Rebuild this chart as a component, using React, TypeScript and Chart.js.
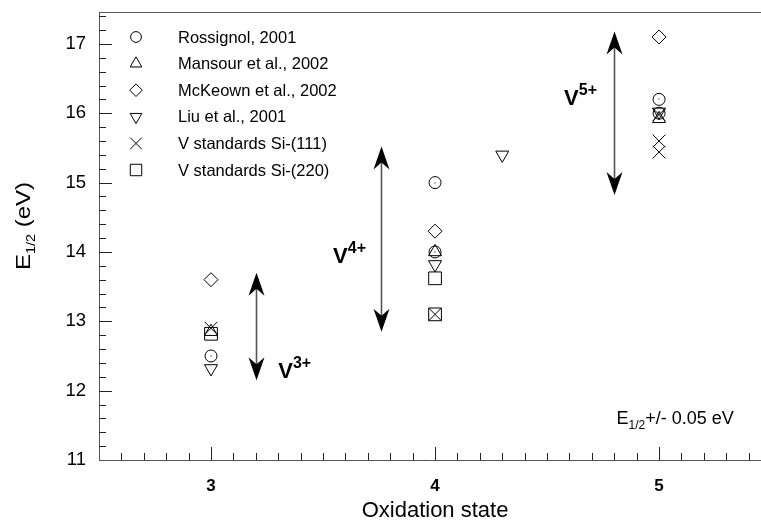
import React, { useEffect, useRef } from "react";
import { Chart, registerables } from "chart.js";

Chart.register(...registerables);

// ---------- data ----------
const seriesLabels = [
  "Rossignol, 2001",
  "Mansour et al., 2002",
  "McKeown et al., 2002",
  "Liu et al., 2001",
  "V standards Si-(111)",
  "V standards Si-(220)",
];

const rossignol = [
  { x: 3, y: 12.5 },
  { x: 4, y: 15.0 },
  { x: 4, y: 14.0 },
  { x: 5, y: 16.2 },
  { x: 5, y: 16.0 },
];
const mansour = [
  { x: 3, y: 12.85 },
  { x: 4, y: 14.0 },
  { x: 5, y: 15.92 },
];
const mckeown = [
  { x: 3, y: 13.6 },
  { x: 4, y: 14.3 },
  { x: 5, y: 17.1 },
];
const liu = [
  { x: 3, y: 12.32 },
  { x: 4, y: 13.82 },
  { x: 4.3, y: 15.4 },
  { x: 5, y: 16.02 },
];
const si111 = [
  { x: 3, y: 12.9 },
  { x: 4, y: 13.1 },
  { x: 5, y: 15.98 },
  { x: 5, y: 15.6 },
  { x: 5, y: 15.44 },
];
const si220 = [
  { x: 3, y: 12.82 },
  { x: 4, y: 13.62 },
  { x: 4, y: 13.1 },
];

const xTickValues = [3, 4, 5];
const yTickValues = [11, 12, 13, 14, 15, 16, 17];

// valence range arrows
const arrowX = [3.2, 3.76, 4.8];
const arrowLow = [12.15, 12.85, 14.82];
const arrowHigh = [13.7, 15.52, 17.18];

// valence labels
const valenceSup = ["3+", "4+", "5+"];
const valenceX = [3.3, 3.545, 4.576];
const valenceY = [12.18, 13.84, 16.12];

const noteX = 4.81;
const noteY = 11.52;

// ---------- styling ----------
const FONT = "'Liberation Sans', Arial, Helvetica, sans-serif";
type Marker = { style: string; radius: number };
const markers: Marker[] = [
  { style: "circle", radius: 6 },
  { style: "triangle", radius: 7.5 },
  { style: "diamond", radius: 7 },
  { style: "triangleDown", radius: 7.5 },
  { style: "cross", radius: 9 },
  { style: "square", radius: 9 },
];

function drawMarker(ctx: CanvasRenderingContext2D, style: string, x: number, y: number, r: number) {
  ctx.beginPath();
  const s3 = Math.sqrt(3) / 2;
  switch (style) {
    case "circle":
      ctx.arc(x, y, r, 0, Math.PI * 2);
      break;
    case "triangle":
      ctx.moveTo(x, y - r);
      ctx.lineTo(x + r * s3, y + r / 2);
      ctx.lineTo(x - r * s3, y + r / 2);
      ctx.closePath();
      break;
    case "triangleDown":
      ctx.moveTo(x, y + r);
      ctx.lineTo(x + r * s3, y - r / 2);
      ctx.lineTo(x - r * s3, y - r / 2);
      ctx.closePath();
      break;
    case "diamond":
      ctx.moveTo(x, y - r);
      ctx.lineTo(x + r, y);
      ctx.lineTo(x, y + r);
      ctx.lineTo(x - r, y);
      ctx.closePath();
      break;
    case "cross": {
      const d = r * Math.SQRT1_2;
      ctx.moveTo(x - d, y - d);
      ctx.lineTo(x + d, y + d);
      ctx.moveTo(x + d, y - d);
      ctx.lineTo(x - d, y + d);
      break;
    }
    case "square": {
      const d = r * Math.SQRT1_2;
      ctx.rect(x - d, y - d, 2 * d, 2 * d);
      break;
    }
  }
  ctx.stroke();
}

const decorPlugin = {
  id: "decor",
  afterDatasetsDraw(chart: any) {
    const ctx: CanvasRenderingContext2D = chart.ctx;
    // centre dot of Rossignol circles
    const meta = chart.getDatasetMeta(0);
    ctx.save();
    ctx.fillStyle = "#000";
    meta.data.forEach((p: any) => ctx.fillRect(Math.round(p.x) - 0.5, Math.round(p.y) - 0.5, 1, 1));
    ctx.restore();
  },
  afterDraw(chart: any) {
    const ctx: CanvasRenderingContext2D = chart.ctx;
    const { left, right, top, bottom } = chart.chartArea;
    const xs = chart.scales.x;
    const ys = chart.scales.y;
    ctx.save();

    // top frame
    ctx.strokeStyle = "#555";
    ctx.lineWidth = 1;
    ctx.beginPath();
    ctx.moveTo(left, top + 0.5);
    ctx.lineTo(right, top + 0.5);
    ctx.stroke();

    // inward ticks
    ctx.strokeStyle = "#222";
    ctx.beginPath();
    for (let i = 26; i <= 54; i++) {
      const px = Math.round(xs.getPixelForValue(i / 10)) + 0.5;
      const len = i % 10 === 0 ? 13 : 7;
      ctx.moveTo(px, bottom);
      ctx.lineTo(px, bottom - len);
    }
    for (let i = 56; i <= 87; i++) {
      const py = Math.round(ys.getPixelForValue(i / 5)) + 0.5;
      const len = i % 5 === 0 ? 13 : 7;
      ctx.moveTo(left, py);
      ctx.lineTo(left + len, py);
    }
    ctx.stroke();

    // legend
    ctx.lineWidth = 1;
    ctx.strokeStyle = "#000";
    ctx.fillStyle = "#000";
    ctx.font = `16.5px ${FONT}`;
    ctx.textBaseline = "middle";
    ctx.textAlign = "left";
    seriesLabels.forEach((lab, i) => {
      const yy = 37 + i * 26.6;
      drawMarker(ctx, markers[i].style, 136, yy, markers[i].radius * 0.9);
      ctx.fillText(lab, 178, yy + 1);
    });

    // arrows
    arrowX.forEach((ax, i) => {
      const px = Math.round(xs.getPixelForValue(ax)) + 0.5;
      const yTop = ys.getPixelForValue(arrowHigh[i]);
      const yBot = ys.getPixelForValue(arrowLow[i]);
      ctx.strokeStyle = "#555";
      ctx.lineWidth = 1.6;
      ctx.beginPath();
      ctx.moveTo(px, yTop + 10);
      ctx.lineTo(px, yBot - 10);
      ctx.stroke();
      ctx.fillStyle = "#000";
      ctx.beginPath();
      ctx.moveTo(px, yTop);
      ctx.lineTo(px + 8, yTop + 23);
      ctx.lineTo(px, yTop + 16);
      ctx.lineTo(px - 8, yTop + 23);
      ctx.closePath();
      ctx.fill();
      ctx.beginPath();
      ctx.moveTo(px, yBot);
      ctx.lineTo(px + 8, yBot - 23);
      ctx.lineTo(px, yBot - 16);
      ctx.lineTo(px - 8, yBot - 23);
      ctx.closePath();
      ctx.fill();
    });

    // valence labels
    ctx.fillStyle = "#000";
    ctx.textAlign = "left";
    ctx.textBaseline = "alphabetic";
    valenceSup.forEach((sup, i) => {
      const px = xs.getPixelForValue(valenceX[i]);
      const py = ys.getPixelForValue(valenceY[i]);
      ctx.font = `bold 22px ${FONT}`;
      ctx.fillText("V", px, py);
      const w = ctx.measureText("V").width;
      ctx.font = `bold 16px ${FONT}`;
      ctx.fillText(sup, px + w, py - 10);
    });

    // note
    {
      const px = xs.getPixelForValue(noteX);
      const py = ys.getPixelForValue(noteY);
      ctx.textAlign = "left";
      ctx.font = `18px ${FONT}`;
      ctx.fillText("E", px, py);
      let w = ctx.measureText("E").width;
      ctx.font = `12px ${FONT}`;
      ctx.fillText("1/2", px + w, py + 5);
      w += ctx.measureText("1/2").width;
      ctx.font = `18px ${FONT}`;
      ctx.fillText("+/- 0.05 eV", px + w, py);
    }

    // x title
    ctx.font = `22px ${FONT}`;
    ctx.textAlign = "center";
    ctx.textBaseline = "middle";
    ctx.fillText("Oxidation state", xs.getPixelForValue(4), 511);

    // y title (rotated, with subscript)
    ctx.save();
    ctx.translate(24, 226);
    ctx.rotate(-Math.PI / 2);
    ctx.scale(1.2, 1);
    ctx.textAlign = "left";
    ctx.textBaseline = "middle";
    ctx.font = `20px ${FONT}`;
    const wE = ctx.measureText("E").width;
    const wRest = ctx.measureText(" (eV)").width;
    ctx.font = `12px ${FONT}`;
    const wSub = ctx.measureText("1/2").width;
    const total = wE + wSub + wRest;
    let cx = -total / 2;
    ctx.font = `20px ${FONT}`;
    ctx.fillText("E", cx, 0);
    cx += wE;
    ctx.font = `12px ${FONT}`;
    ctx.fillText("1/2", cx, 8);
    cx += wSub;
    ctx.font = `20px ${FONT}`;
    ctx.fillText(" (eV)", cx, 0);
    ctx.restore();

    ctx.restore();
  },
};

const pointStyleMap: Record<string, { pointStyle: string; rotation: number }> = {
  circle: { pointStyle: "circle", rotation: 0 },
  triangle: { pointStyle: "triangle", rotation: 0 },
  triangleDown: { pointStyle: "triangle", rotation: 180 },
  diamond: { pointStyle: "rectRot", rotation: 0 },
  cross: { pointStyle: "crossRot", rotation: 0 },
  square: { pointStyle: "rect", rotation: 0 },
};

export default function App() {
  const ref = useRef<HTMLCanvasElement | null>(null);

  useEffect(() => {
    if (!ref.current) return;
    const allSeries = [rossignol, mansour, mckeown, liu, si111, si220];
    const datasets = allSeries.map((d, i) => {
      const m = markers[i];
      const ps = pointStyleMap[m.style];
      return {
        label: seriesLabels[i],
        data: d,
        pointStyle: ps.pointStyle,
        rotation: ps.rotation,
        pointRotation: ps.rotation,
        pointRadius: m.radius,
        pointHoverRadius: m.radius,
        pointBorderWidth: 1,
        borderColor: "#000",
        pointBorderColor: "#000",
        backgroundColor: "rgba(0,0,0,0)",
        pointBackgroundColor: "rgba(0,0,0,0)",
        showLine: false,
      };
    });

    const zeroPad = (scale: any) => {
      scale.paddingLeft = 0;
      scale.paddingRight = 0;
      scale.paddingTop = 0;
      scale.paddingBottom = 0;
    };

    const chart = new Chart(ref.current, {
      type: "scatter",
      data: { datasets } as any,
      plugins: [decorPlugin as any],
      options: {
        animation: false,
        responsive: false,
        layout: { autoPadding: false, padding: { top: 12, left: 0, right: 0, bottom: 0 } },
        plugins: { legend: { display: false }, tooltip: { enabled: false } },
        scales: {
          x: {
            type: "linear",
            min: 2.5,
            max: 5.455,
            grid: { display: false, drawTicks: false },
            border: { display: true, color: "#555", width: 1 },
            afterBuildTicks: (scale: any) => {
              scale.ticks = xTickValues.map((v) => ({ value: v }));
            },
            afterFit: (scale: any) => {
              scale.height = 64;
              zeroPad(scale);
            },
            ticks: {
              padding: 16,
              color: "#000",
              font: { family: FONT, size: 17, weight: "bold" },
              callback: (v: any) => String(v),
            },
          },
          y: {
            type: "linear",
            min: 11,
            max: 17.46,
            grid: { display: false, drawTicks: false },
            border: { display: true, color: "#555", width: 1 },
            afterBuildTicks: (scale: any) => {
              scale.ticks = yTickValues.map((v) => ({ value: v }));
            },
            afterFit: (scale: any) => {
              scale.width = 99;
              zeroPad(scale);
            },
            ticks: {
              padding: 13,
              color: "#000",
              font: { family: FONT, size: 18.5 },
              callback: (v: any) => String(v),
            },
          },
        },
      } as any,
    });
    return () => chart.destroy();
  }, []);

  return (
    <div style={{ position: "fixed", left: 0, top: 0, width: 761, height: 524, background: "#fff" }}>
      <canvas ref={ref} width={761} height={524} style={{ display: "block" }} />
    </div>
  );
}
